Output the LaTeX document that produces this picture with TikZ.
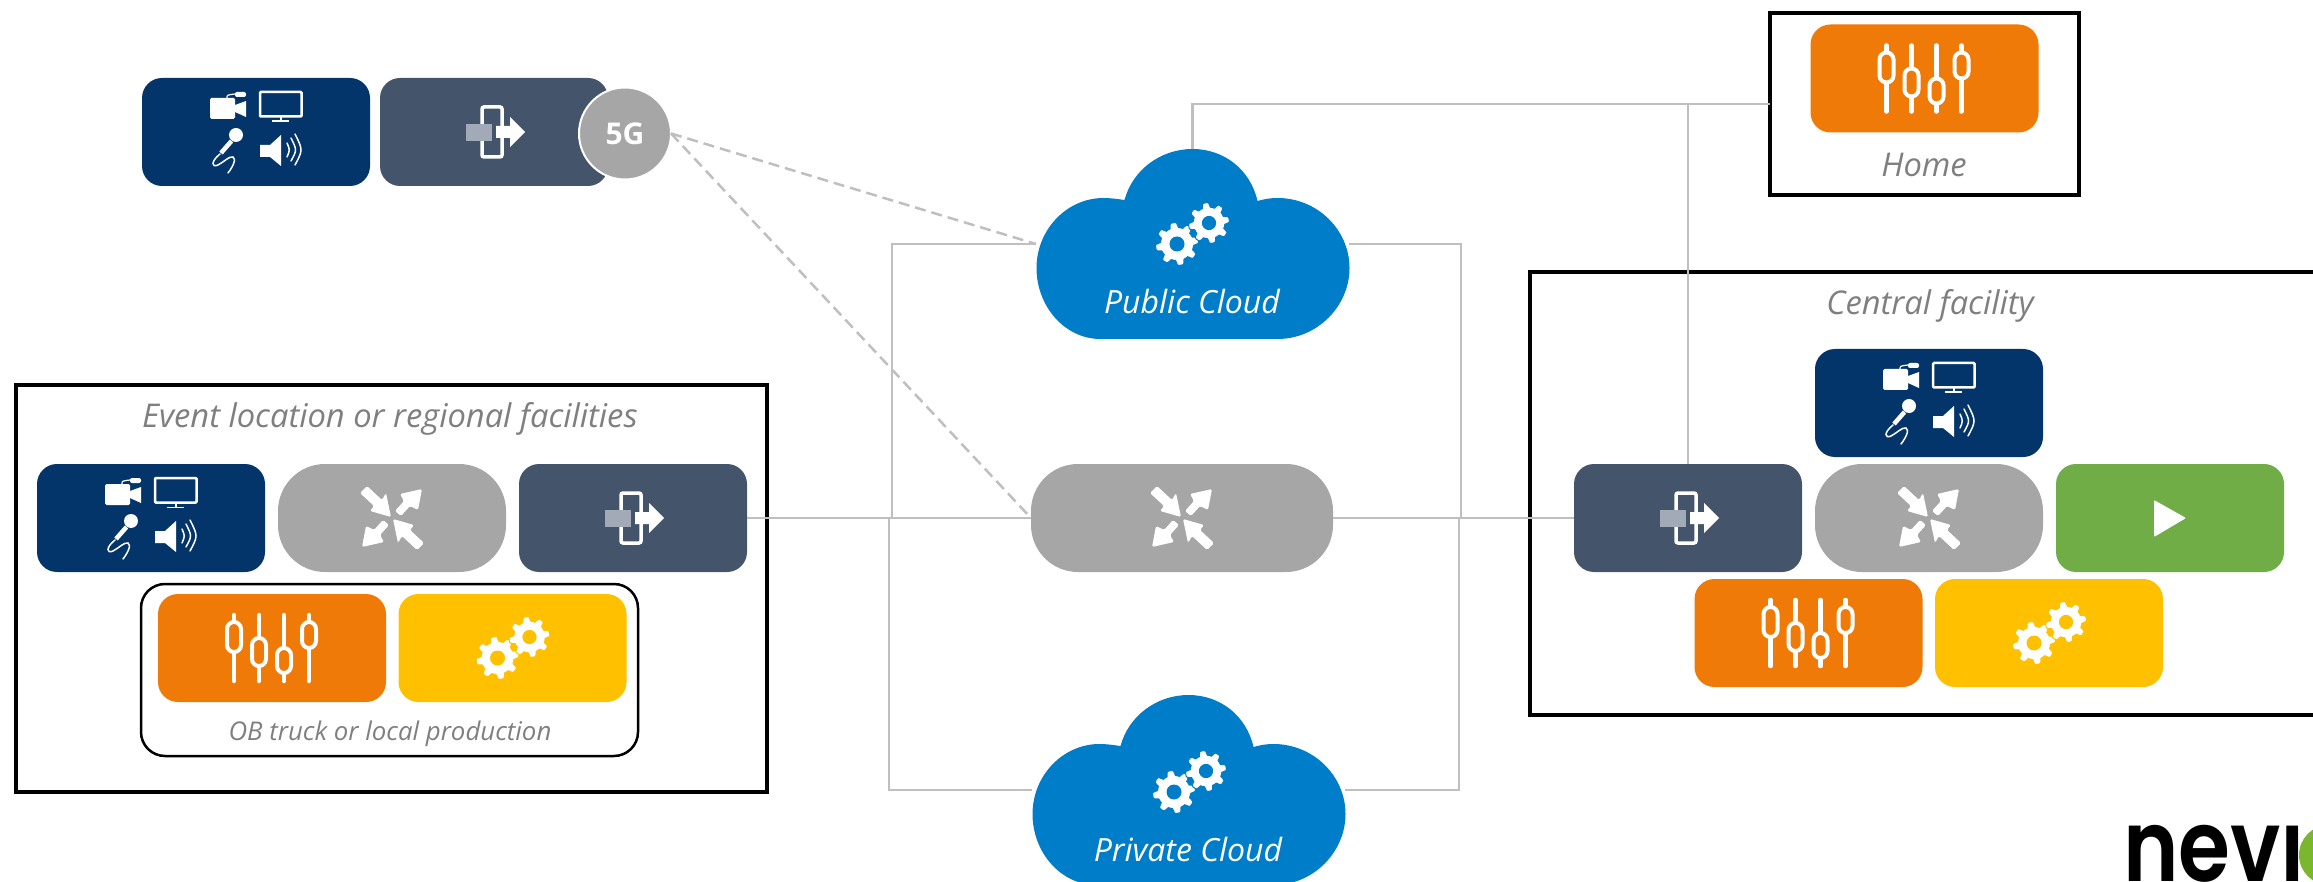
\documentclass[tikz,border=0pt]{standalone}
\usepackage{fontspec}
\setmainfont{Open Sans}
\newfontfamily\logofont{Poppins SemiBold}
\usepackage{tikz}
\usetikzlibrary{positioning}
\definecolor{navyc}{HTML}{03356A}
\definecolor{slatec}{HTML}{44546A}
\definecolor{greyc}{HTML}{A6A6A6}
\definecolor{greenc}{HTML}{70AD47}
\definecolor{orangec}{HTML}{F07A08}
\definecolor{yellowc}{HTML}{FFC000}
\definecolor{cloudc}{HTML}{007DC8}
\definecolor{capc}{HTML}{7F7F7F}
\definecolor{linec}{HTML}{BFBFBF}
\definecolor{squarec}{HTML}{A2AAB8}
\definecolor{logoc}{HTML}{7AB72E}
\tikzset{
  tile/.style    = {inner sep=0, outer sep=0, minimum width=228, minimum height=108, rounded corners=20},
  av/.style      = {tile, fill=navyc},
  gateway/.style = {tile, fill=slatec},
  mixer/.style   = {tile, fill=greyc, rounded corners=47},
  faders/.style  = {tile, fill=orangec},
  render/.style  = {tile, fill=yellowc},
  player/.style  = {tile, fill=greenc},
  frame/.style   = {draw=black, line width=4, inner sep=0, outer sep=0},
  cloudbox/.style = {inner sep=0, outer sep=0, minimum width=313, minimum height=190},
  caption/.style = {inner sep=0, anchor=base, text=capc, font=\itshape\fontsize{32.7}{32.7}\selectfont},
  small caption/.style = {caption, font=\itshape\fontsize{25.8}{25.8}\selectfont},
  cloud caption/.style = {caption, text=white, font=\itshape\fontsize{32}{32}\selectfont},
  link/.style    = {draw=linec, line width=2.5},
  pics/cloudshape/.style = {code={
    \fill[cloudc] (-92,95) .. controls (-128,95) and (-156,62) .. (-156,24)
      .. controls (-156,-14) and (-126,-46) .. (-89,-46) .. controls (-82,-46) and (-75,-45) .. (-68,-44)
      .. controls (-60,-74) and (-32,-95) .. (0,-95) .. controls (32,-95) and (58,-74) .. (65,-43)
      .. controls (72,-45) and (78,-46) .. (85,-46) .. controls (125,-46) and (157,-14) .. (157,24)
      .. controls (157,62) and (125,95) .. (85,95) -- cycle;
  }},
  pics/gears/.style = {code={
    \foreach \gx/\gy/\gr in {-15/10/1, 17/-11/0.95} {
      \begin{scope}[shift={(\gx,\gy)}, scale=\gr]
        \foreach \a in {0,45,...,315}
          \filldraw[fill=white, draw=#1, line width=1, rotate=\a+10, rounded corners=1] (13,-5) -- (21.5,-3) -- (21.5,3) -- (13,5) -- cycle;
        \fill[white] (0,0) circle (16);
        \fill[#1] (0,0) circle (7.5);
      \end{scope}
    }
  }},
  pics/sliders/.style = {code={
    \foreach \sx/\st/\sb in {-38/-26/4, -13/-10/18, 12/0/25, 37/-26/0} {
      \draw[white, line width=4.5, line cap=round] (\sx,-33) -- (\sx,33);
      \draw[white, line width=4, fill=orangec, rounded corners=7] (\sx-7,\st) rectangle (\sx+7,\sb);
    }
  }},
  pics/crossarrows/.style = {code={
    \foreach \r in {0,180} {
      \fill[white, rotate=\r, rounded corners=1.5] (-32,-25) -- (-18,-12) -- (-22,-7) -- (-1,-1) -- (-6,-25)
        -- (-10,-18) -- (-25,-32) -- cycle;
      \fill[white, rotate=\r, rounded corners=1.5] (30,-29) -- (8,-24) -- (12,-17) -- (3,-7) -- (9,-2)
        -- (18,-12) -- (26,-8) -- cycle;
    }
  }},
  pics/throughput/.style = {code={
    \draw[white, line width=3.5, rounded corners=2] (-12,-25) rectangle (8,25);
    \fill[white] (2,-6) -- (16,-6) -- (16,-15) -- (31,0) -- (16,15) -- (16,6) -- (2,6) -- cycle;
    \fill[squarec] (-28,-8) rectangle (-2,9);
  }},
  pics/playmark/.style = {code={
    \fill[white, rounded corners=1] (-16,-18) -- (16,0) -- (-16,19) -- cycle;
  }},
  pics/avset/.style = {code={
    % camera, monitor, microphone and loudspeaker
    \fill[white, rounded corners=1.5] (-46,-34) rectangle (-21,-13);
    \fill[white] (-21,-27) -- (-10,-31) -- (-10,-15) -- (-21,-20) -- cycle;
    \fill[white, rounded corners=2] (-21,-40) rectangle (-10,-35);
    \draw[white, line width=1.2] (-29,-34) .. controls (-29,-37) .. (-21,-38);
    \draw[white, line width=2.5, rounded corners=1] (4,-40) rectangle (45.5,-15.5);
    \fill[white] (23.5,-15) rectangle (26,-11);
    \fill[white] (16,-11.5) rectangle (33,-10);
    \fill[white] (-20,3) circle (7);
    \draw[white, line width=4.5] (-24.5,9) -- (-35,21);
    \draw[white, line width=1.5, line cap=round] (-36,22) .. controls (-46,30) and (-44,36) .. (-38,33)
      .. controls (-32,30) and (-27,24) .. (-23,25) .. controls (-19,27) and (-24,36) .. (-28,41);
    \fill[white] (4,13) -- (14,13) -- (25,3) -- (25,34) -- (14,25) -- (4,25) -- cycle;
    \draw[white, line width=1.5, line cap=round] (31,11) .. controls (34,18) .. (31,25);
    \draw[white, line width=1.5, line cap=round] (35,6) .. controls (41,18) .. (35,29);
    \draw[white, line width=1.5, line cap=round] (39,2) .. controls (47,18) .. (39,33);
  }}
}
\begin{document}
\begin{tikzpicture}[x=1pt,y=-1pt]
\useasboundingbox (0,0) rectangle (2313,882);
\clip (0,0) rectangle (2313,882);

% frames first, tiles on top, links last

\node[frame, minimum width=751, minimum height=407] (evFrame) at (391.5,588.5) {};
\node[frame, minimum width=497, minimum height=172, draw=black, line width=2.5, rounded corners=24] (obFrame) at (389.5,670) {};
\node[frame, minimum width=309, minimum height=182] (homeFrame) at (1924.5,104) {};
\node[frame, minimum width=900, minimum height=442.5] (cnFrame) at (1980,493.75) {};

\node[av] (tpAv) at (256,132) {};
\node[gateway, right=10pt of tpAv] (tpGw) {};
\node[circle, fill=greyc, draw=white, line width=2, minimum size=92, inner sep=0, outer sep=0, text=white, font=\bfseries\fontsize{30}{30}\selectfont] (tp5g) at (625,133.5) {5G};

\node[av] (evAv) at (151,518) {};
\node[mixer, right=13pt of evAv] (evMx) {};
\node[gateway, right=13pt of evMx] (evGw) {};
\node[faders, below=22pt of evAv, xshift=121pt] (evFd) {};
\node[render, right=12.5pt of evFd] (evRn) {};

\node[mixer, minimum width=302] (midMx) at (1182,518) {};

\node[faders] (hmFd) at (1924.5,78.5) {};

\node[mixer] (cnMx) at (1929,518) {};
\node[gateway, left=13pt of cnMx] (cnGw) {};
\node[player, right=13pt of cnMx] (cnPl) {};
\node[av, above=7pt of cnMx] (cnAv) {};
\node[faders, below=7pt of cnMx, xshift=-120.5pt] (cnFd) {};
\node[render, right=12.5pt of cnFd] (cnRn) {};

\node[cloudbox] (pub) at (1192.5,244) {};
\node[cloudbox] (prv) at (1188.5,790) {};
\pic at (pub) {cloudshape};
\pic at (prv) {cloudshape};
\pic at (1192,234) {gears=cloudc};
\pic at (1189,782) {gears=cloudc};

\foreach \n in {tpAv,evAv,cnAv}
  \pic at (\n) {avset};
\foreach \n in {tpGw,evGw,cnGw}
  \pic at (\n) {throughput};
\foreach \n in {evMx,cnMx,midMx}
  \pic at (\n) {crossarrows};
\foreach \n in {evFd,hmFd,cnFd}
  \pic at (\n) {sliders};
\foreach \n in {evRn,cnRn}
  \pic at (\n) {gears=yellowc};
\pic at (cnPl) {playmark};

\node[caption] (evCap) at (390,427) {Event location or regional facilities};
\node[small caption] (obCap) at (390,740) {OB truck or local production};
\node[caption] (hmCap) at (1924,177) {Home};
\node[caption] (cnCap) at (1930,315) {Central facility};
\node[cloud caption] (pubCap) at (1192,314) {Public Cloud};
\node[cloud caption] (prvCap) at (1188,861) {Private Cloud};

\node[inner sep=0, anchor=base west, xscale=.84, transform shape, font=\logofont\fontsize{100}{100}\selectfont] (logoTxt) at (2123,881) {nev\i};
\fill[logoc] (2329,855) circle (30);

\draw[link] (evGw.east) -- (midMx.west);
\draw[link] (midMx.east) -- (cnGw.west);
\draw[link] (pub.north) |- (homeFrame.west);
\draw[link] (cnGw.north) -- (cnGw.north |- homeFrame.west);
\draw[link] (pub.west) -| (892,518);
\draw[link] (prv.west) -| (889,518);
\draw[link] (pub.east) -| (1461,518);
\draw[link] (prv.east) -| (1459,518);
\draw[link, dash pattern=on 11pt off 6pt] (tp5g.east) -- (pub.west);
\draw[link, dash pattern=on 11pt off 6pt] (tp5g.east) -- (midMx.west);
\end{tikzpicture}
\end{document}
